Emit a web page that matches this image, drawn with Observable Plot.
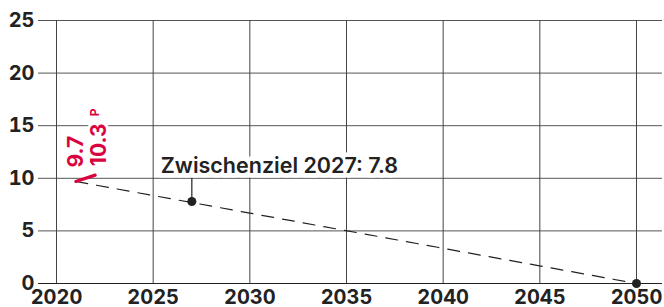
<!DOCTYPE html>
<html>
<head>
<meta charset="utf-8">
<script src="https://cdn.jsdelivr.net/npm/d3@7"></script>
<script src="https://cdn.jsdelivr.net/npm/@observablehq/plot@0.6"></script>
<style>
  html, body { margin: 0; padding: 0; background: #fff; }
  svg { display: block; }
</style>
</head>
<body>
<div id="chart"></div>
<script>
// Data
const xTicks = [2020, 2025, 2030, 2035, 2040, 2045, 2050];
const yTicks = [0, 5, 10, 15, 20, 25];
const actualYears = [2021, 2022];
const actualValues = [9.7, 10.3];
const actualLabels = ["9.7", "10.3"];
const provisionalMark = "P";
const pathYears = [2021, 2050];
const pathValues = [9.7, 0];
const targetYears = [2027, 2050];
const targetValues = [7.8, 0];
const noteText = ["Zwischenziel 2027: 7.8"];

const actual = actualYears.map((x, i) => ({x, y: actualValues[i], label: actualLabels[i]}));
const path = pathYears.map((x, i) => ({x, y: pathValues[i]}));
const targets = targetYears.map((x, i) => ({x, y: targetValues[i]}));
const note = [{x: targetYears[0], y: targetValues[0], text: noteText[0]}];

const red = "#d9043f";
const ink = "#222";
const font = "Inter, 'Liberation Sans', Arial, sans-serif";

const chart = Plot.plot({
  width: 664,
  height: 307,
  marginLeft: 56,
  marginRight: 28,
  marginTop: 20,
  marginBottom: 24,
  style: {fontFamily: font, background: "#fff"},
  x: {domain: [2020, 2050], ticks: xTicks, tickFormat: d => String(d), label: null},
  y: {domain: [0, 25], ticks: yTicks, label: null},
  marks: [
    Plot.ruleY(yTicks, {stroke: "#555", strokeWidth: 1, insetLeft: -18, insetRight: -26}),
    Plot.ruleX(xTicks, {stroke: "#444", strokeWidth: 1}),
    Plot.ruleY([0], {stroke: ink, strokeWidth: 1.2, insetLeft: -18, insetRight: -26}),
    Plot.axisX({ticks: xTicks, tickSize: 0, tickPadding: 6, fontSize: 20, fontWeight: 700, fill: ink, tickFormat: d => String(d)}),
    Plot.axisY({ticks: yTicks, tickSize: 0, tickPadding: 22, fontSize: 20, fontWeight: 700, fill: ink}),
    Plot.line(path, {x: "x", y: "y", stroke: ink, strokeWidth: 1.2, strokeDasharray: "12,9"}),
    Plot.ruleX(note, {x: "x", y1: "y", y2: "y", insetTop: -23, stroke: ink, strokeWidth: 1.2}),
    Plot.dot(targets, {x: "x", y: "y", r: 4.5, fill: ink, stroke: "none"}),
    Plot.text(note, {x: "x", y: "y", text: "text", textAnchor: "start", dx: -31, dy: -35, fontSize: 21.5, fontWeight: 600, fill: ink, stroke: "white", strokeWidth: 9, paintOrder: "stroke"}),
    Plot.text(actual.slice(1), {x: "x", y: "y", text: "label", rotate: -90, textAnchor: "start", lineAnchor: "middle", dx: 4, dy: -9, fontSize: 21, fontWeight: 700, fill: red, stroke: "white", strokeWidth: 6, paintOrder: "stroke"}),
    Plot.text(actual.slice(1), {x: "x", y: "y", text: () => provisionalMark, rotate: -90, textAnchor: "start", lineAnchor: "middle", dx: 0, dy: -59, fontSize: 12, fontWeight: 700, fill: red, stroke: "white", strokeWidth: 4, paintOrder: "stroke"}),
    Plot.text(actual.slice(0, 1), {x: "x", y: "y", text: "label", rotate: -90, textAnchor: "start", lineAnchor: "middle", dx: 0, dy: -14, fontSize: 21, fontWeight: 700, fill: red}),
    Plot.line(actual, {x: "x", y: "y", stroke: red, strokeWidth: 3.2})
  ]
});
document.getElementById("chart").appendChild(chart);
</script>
</body>
</html>
